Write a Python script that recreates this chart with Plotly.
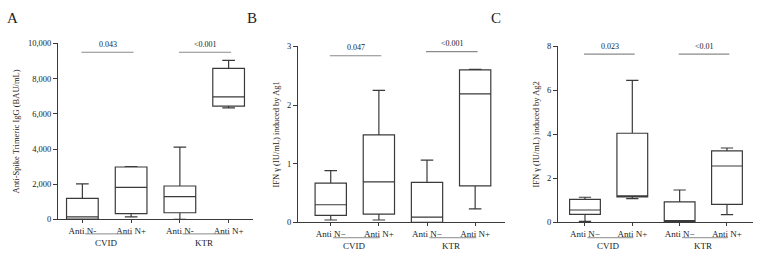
import plotly.graph_objects as go

W, H = 757, 261

categories = ["Anti N-", "Anti N+", "Anti N-", "Anti N+"]
categories_bc = ["Anti N\u2212", "Anti N+", "Anti N\u2212", "Anti N+"]
groups = ["CVID", "KTR"]

# Panel A: Anti-Spike Trimeric IgG (BAU/mL)
a_min = [0, 150, 0, 6340]
a_q1 = [20, 330, 380, 6440]
a_med = [150, 1820, 1300, 6960]
a_q3 = [1200, 2980, 1900, 8590]
a_max = [2020, 3000, 4110, 9040]

# Panel B: IFN gamma induced by Ag1
b_min = [0.04, 0.04, 0.0, 0.23]
b_q1 = [0.12, 0.14, 0.0, 0.62]
b_med = [0.30, 0.69, 0.09, 2.19]
b_q3 = [0.67, 1.49, 0.68, 2.60]
b_max = [0.88, 2.25, 1.06, 2.61]

# Panel C: IFN gamma induced by Ag2
c_min = [0.04, 1.08, 0.0, 0.35]
c_q1 = [0.36, 1.16, 0.03, 0.82]
c_med = [0.56, 1.20, 0.07, 2.56]
c_q3 = [1.04, 4.05, 0.93, 3.25]
c_max = [1.14, 6.45, 1.47, 3.38]

a_pvals = ["0.043", "<0.001"]
b_pvals = ["0.047", "<0.001"]
c_pvals = ["0.023", "<0.01"]
a_bar_levels = [9500, 9500]
b_bar_levels = [2.84, 2.91]
c_bar_levels = [7.65, 7.65]

panels = [
    dict(letter="A", xd=(58, 253), yd=(223, 40), xr=[-0.5, 3.5], yr=[0, 10000], dtick=2000,
         tickformat=",d", title="Anti-Spike Trimeric IgG (BAU/mL)", cats=categories,
         stats=(a_min, a_q1, a_med, a_q3, a_max), pv=a_pvals, lv=a_bar_levels, lx=12, ul=15),
    dict(letter="B", xd=(298, 505), yd=(226, 43), xr=[-0.68, 3.62], yr=[0, 3], dtick=1,
         tickformat="d", title="IFN \u03b3 (IU/mL) induced by Ag1", cats=categories_bc,
         stats=(b_min, b_q1, b_med, b_q3, b_max), pv=b_pvals, lv=b_bar_levels, lx=252, ul=16),
    dict(letter="C", xd=(558, 753), yd=(226, 43), xr=[-0.57, 3.55], yr=[0, 8], dtick=2,
         tickformat="d", title="IFN \u03b3 (IU/mL) induced by Ag2", cats=categories_bc,
         stats=(c_min, c_q1, c_med, c_q3, c_max), pv=c_pvals, lv=c_bar_levels, lx=496, ul=16),
]

FONT = "Liberation Serif, Times New Roman, serif"
LINE = "#3a3a3a"
GRAY = "#8a8a8a"

fig = go.Figure()
shapes = []
annotations = []
layout = {}

for i, p in enumerate(panels):
    n = "" if i == 0 else str(i + 1)
    xa, ya = "x" + n, "y" + n
    mn, q1, md, q3, mx = p["stats"]
    fig.add_trace(go.Box(
        x=[0, 1, 2, 3], lowerfence=mn, q1=q1, median=md, q3=q3, upperfence=mx,
        xaxis=xa, yaxis=ya, width=0.65, whiskerwidth=0.4,
        fillcolor="rgba(0,0,0,0)", line=dict(color=LINE, width=1.2),
        boxpoints=False, showlegend=False, hoverinfo="skip",
    ))
    layout["xaxis" + n] = dict(
        domain=[p["xd"][0] / W, p["xd"][1] / W], range=p["xr"], anchor=ya,
        tickmode="array", tickvals=[0, 1, 2, 3], ticktext=p["cats"],
        ticks="outside", ticklen=3, tickcolor=LINE, showline=True, linecolor=LINE,
        linewidth=1, showgrid=False, zeroline=False,
        tickfont=dict(family=FONT, size=9, color="#222"),
    )
    layout["yaxis" + n] = dict(
        domain=[1 - p["yd"][0] / H, 1 - p["yd"][1] / H], range=p["yr"], anchor=xa,
        dtick=p["dtick"], tickformat=p["tickformat"], ticks="outside", ticklen=4,
        tickcolor=LINE, showline=True, linecolor=LINE, linewidth=1, showgrid=False,
        zeroline=False, tickfont=dict(family=FONT, size=8.5, color="#222"),
        title=dict(text=p["title"], font=dict(family=FONT, size=8.5, color="#222"), standoff=6),
    )
    dh = p["yd"][0] - p["yd"][1]
    # significance bars
    for j, (pv, lv) in enumerate(zip(p["pv"], p["lv"])):
        x0, x1 = 2 * j, 2 * j + 1
        shapes.append(dict(type="line", xref=xa, yref=ya, x0=x0 - 0.02, x1=x1 + 0.05, y0=lv, y1=lv,
                           line=dict(color=GRAY, width=1.2)))
        annotations.append(dict(xref=xa, yref=ya, x=(x0 + x1) / 2 + 0.02, y=lv, text=pv,
                                showarrow=False, yshift=8, xanchor="center", yanchor="middle",
                                font=dict(family=FONT, size=8, color="#222")))
    # group underlines and labels
    for j, g in enumerate(groups):
        x0, x1 = 2 * j, 2 * j + 1
        ul = p["ul"]
        shapes.append(dict(type="line", xref=xa, yref=ya + " domain", x0=x0 + 0.05, x1=x1 + 0.02,
                           y0=-ul / dh, y1=-ul / dh, line=dict(color=GRAY, width=1)))
        annotations.append(dict(xref=xa, yref=ya + " domain", x=(x0 + x1) / 2, y=-(ul + 9) / dh,
                                text=g, showarrow=False, xanchor="center", yanchor="middle",
                                font=dict(family=FONT, size=9, color="#222")))
    annotations.append(dict(xref="paper", yref="paper", x=p["lx"] / W, y=1 - 14 / H,
                            text=p["letter"], showarrow=False, xanchor="center", yanchor="middle",
                            font=dict(family=FONT, size=15, color="#222")))

fig.update_layout(
    width=W, height=H, margin=dict(l=0, r=0, t=0, b=0),
    paper_bgcolor="white", plot_bgcolor="white",
    shapes=shapes, annotations=annotations, **layout,
)
fig.write_html("out.html", config={"displayModeBar": False, "staticPlot": True},
               post_script="document.body.style.margin='0px';document.body.style.overflow='hidden';")
